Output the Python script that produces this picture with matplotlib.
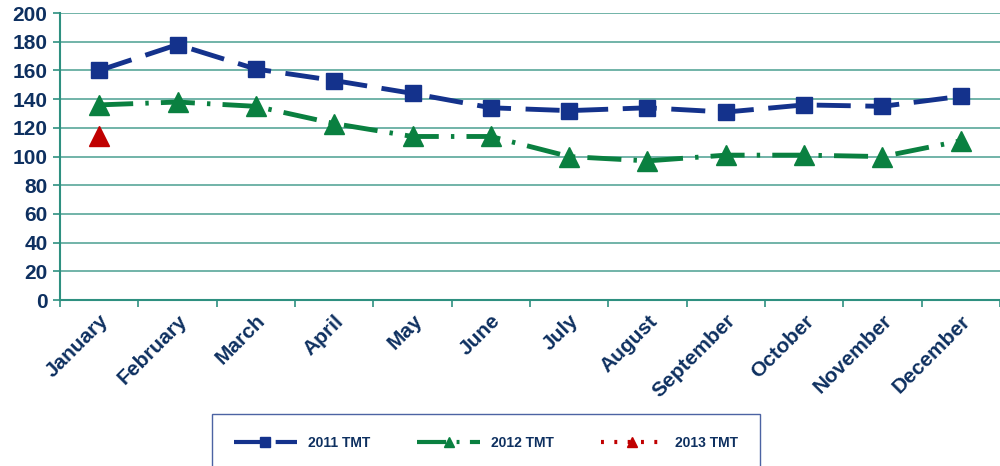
import matplotlib
matplotlib.use("Agg")
import matplotlib.pyplot as plt

MONTHS = ["January", "February", "March", "April", "May", "June", "July",
          "August", "September", "October", "November", "December"]
TMT_2011 = [160, 178, 161, 153, 144, 134, 132, 134, 131, 136, 135, 142]
TMT_2012 = [136, 138, 135, 123, 114, 114, 100, 97, 101, 101, 100, 111]
TMT_2013 = [114]

TEXT = "#0E3060"
GRID = "#2E9080"

plt.rcParams["font.family"] = ["Liberation Sans", "DejaVu Sans"]
plt.rcParams["font.weight"] = "bold"

fig = plt.figure(figsize=(10, 4.66), dpi=100)
ax = fig.add_axes([0.06, 0.356, 0.94, 0.616])

x = list(range(len(MONTHS)))
ax.plot(x, TMT_2011, color="#14328C", lw=3.5, dashes=(7, 3),
        marker="s", ms=11, label="2011 TMT")
ax.plot(x, TMT_2012, color="#0A8040", lw=3.5, dashes=(7, 2.5, 0.7, 2.5),
        marker="^", ms=14, label="2012 TMT")
ax.plot(x[:len(TMT_2013)], TMT_2013, color="#C00000", lw=3.5,
        dashes=(0.7, 2.5), marker="^", ms=14, label="2013 TMT")

ax.set_xlim(-0.5, len(MONTHS) - 0.5)
ax.set_ylim(0, 200)
ax.set_yticks(range(0, 201, 20))
ax.set_xticks([i - 0.5 for i in range(len(MONTHS) + 1)])
ax.set_xticklabels([])
ax.set_xticks(x, minor=True)
ax.set_xticklabels(MONTHS, minor=True, rotation=45, ha="right",
                   rotation_mode="anchor", fontsize=15, color=TEXT,
                   fontweight="bold")
ax.tick_params(axis="x", which="minor", length=0, pad=8)
ax.tick_params(axis="x", which="major", length=5, color=GRID, width=1.2)
ax.tick_params(axis="y", length=5, color=GRID, width=1.2, labelsize=15,
               labelcolor=TEXT, pad=4)
for lab in ax.get_yticklabels():
    lab.set_fontweight("bold")

ax.grid(axis="y", color=GRID, lw=1.2, alpha=0.8)
ax.set_axisbelow(True)
for s in ("top", "right"):
    ax.spines[s].set_visible(False)
for s in ("left", "bottom"):
    ax.spines[s].set_color(GRID)
    ax.spines[s].set_linewidth(1.5)

# legend box runs off the bottom edge, as in the original
leg = fig.legend(loc="upper left", bbox_to_anchor=(0.212, -0.06, 0.548, 0.1716),
                 mode="expand", ncol=3, frameon=True, fancybox=False,
                 handlelength=4.5, borderpad=1.6, borderaxespad=0,
                 prop={"weight": "bold", "size": 10})
leg.get_frame().set_edgecolor("#1F3C8C")
leg.get_frame().set_linewidth(1.0)
for t in leg.get_texts():
    t.set_color(TEXT)
for h in leg.legend_handles:
    h.set_markersize(7)
    h.set_linewidth(3)

fig.savefig("out.png", dpi=100)
